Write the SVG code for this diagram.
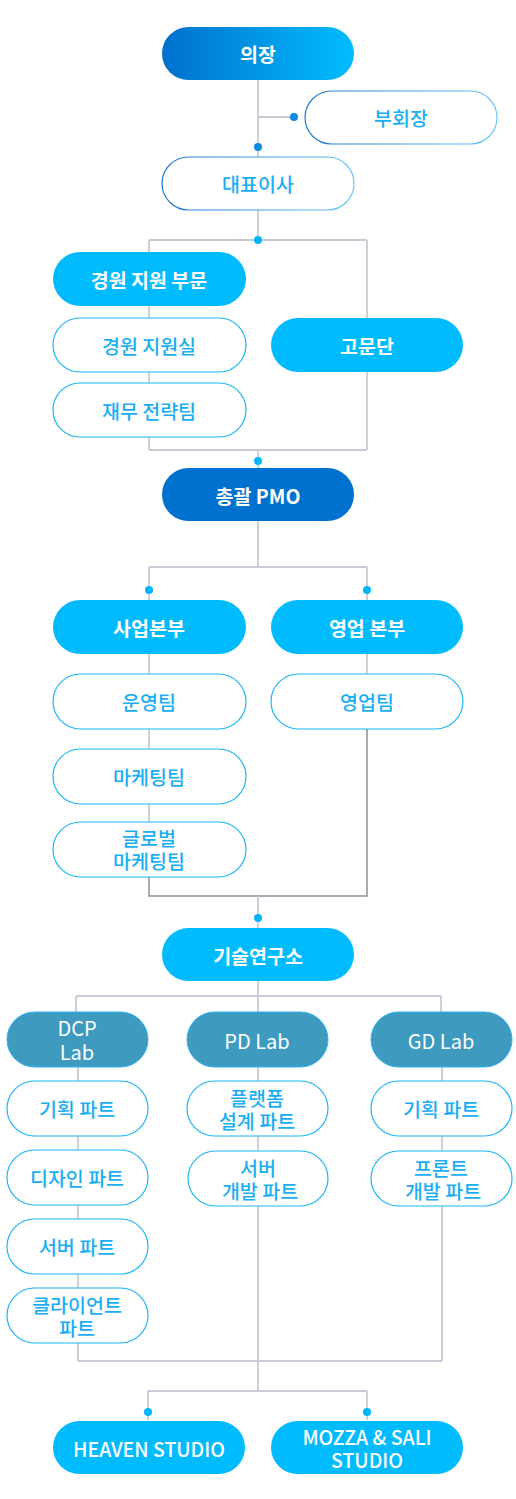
<svg xmlns="http://www.w3.org/2000/svg" width="516" height="1499" viewBox="0 0 516 1499">
<defs>
<linearGradient id="gTop" x1="0" y1="0" x2="1" y2="0"><stop offset="0" stop-color="#0070cc"/><stop offset="1" stop-color="#00bcff"/></linearGradient>
<linearGradient id="gBorder" x1="0" y1="0" x2="1" y2="0"><stop offset="0" stop-color="#1c78d2"/><stop offset="1" stop-color="#6cc8f6"/></linearGradient>
</defs>
<style>
.t{font-family:"Noto Sans CJK KR","Noto Sans",sans-serif;font-size:19.5px;text-anchor:middle;dominant-baseline:central}
.w{fill:#fff;font-weight:700}
.lab{fill:#fff;font-weight:400;font-size:20px}
.b{fill:#1aaef2;font-weight:500}
.fill{fill:#00bcff}
.dark{fill:#0071cf}
.labbox{fill:#3e9bbf;stroke:#2fb3f0;stroke-width:1}
.out{fill:#fff;stroke:#1cb6f5;stroke-width:1.2}
.outg{fill:#fff;stroke:url(#gBorder);stroke-width:1.2}
.ln{fill:none;stroke:#c8cbd6;stroke-width:1.8}
.ln2{fill:none;stroke:#8e8f99;stroke-width:1.5}
.dot{fill:#00b6fb}
.dotd{fill:#0a8ae0}
</style>
<g id="connectors">
<path class="ln" d="M258 80V157M258 117H294"/>
<path class="ln" d="M258 210V240M149 240H367M149 240V450M367 240V450M149 450H367M258 450V468"/>
<path class="ln" d="M258 521V567M149 567H367M149 567V600M367 567V600M149 654V860M367 654V720"/>
<path class="ln2" d="M149 860V896H367V720"/>
<path class="ln" d="M258 896V928"/>
<path class="ln" d="M258 981V1012M76 996H441M76 996V1012M441 996V1012"/>
<path class="ln" d="M78 1067V1361M258 1067V1391M442 1067V1361M78 1361H442M148 1391H367M148 1391V1420M367 1391V1420"/>
<circle class="dotd" cx="294" cy="117" r="4"/>
<circle class="dotd" cx="258" cy="147" r="4"/>
<circle class="dot" cx="258" cy="240" r="4"/>
<circle class="dot" cx="258" cy="461" r="4"/>
<circle class="dot" cx="149" cy="590" r="4"/>
<circle class="dot" cx="367" cy="590" r="4"/>
<circle class="dot" cx="258" cy="918" r="4"/>
<circle class="dot" cx="148" cy="1412" r="4"/>
<circle class="dot" cx="367" cy="1412" r="4"/>
</g>
<g id="n-chair"><rect x="162" y="27" width="192" height="53" rx="26.5" fill="url(#gTop)"/><text class="t w" x="258" y="53">의장</text></g>
<g id="n-vice"><rect class="outg" x="305" y="91" width="192" height="53" rx="26.5"/><text class="t b" x="401" y="117">부회장</text></g>
<g id="n-ceo"><rect class="outg" x="162" y="157" width="192" height="53" rx="26.5"/><text class="t b" x="258" y="183">대표이사</text></g>
<g id="n-mgmt"><rect class="fill" x="53" y="252" width="193" height="54" rx="27"/><text class="t w" x="149" y="279">경원 지원 부문</text></g>
<g id="n-mgmt-office"><rect class="out" x="53" y="318" width="193" height="54" rx="27"/><text class="t b" x="149" y="345">경원 지원실</text></g>
<g id="n-finance"><rect class="out" x="53" y="383" width="193" height="54" rx="27"/><text class="t b" x="149" y="410">재무 전략팀</text></g>
<g id="n-advisory"><rect class="fill" x="271" y="318" width="192" height="54" rx="27"/><text class="t w" x="367" y="345">고문단</text></g>
<g id="n-pmo"><rect class="dark" x="162" y="468" width="192" height="53" rx="26.5"/><text class="t w" x="258" y="495">총괄 PMO</text></g>
<g id="n-biz"><rect class="fill" x="53" y="600" width="193" height="54" rx="27"/><text class="t w" x="149" y="627">사업본부</text></g>
<g id="n-sales"><rect class="fill" x="271" y="600" width="192" height="54" rx="27"/><text class="t w" x="367" y="627">영업 본부</text></g>
<g id="n-ops"><rect class="out" x="53" y="674" width="193" height="55" rx="27.5"/><text class="t b" x="149" y="701">운영팀</text></g>
<g id="n-salesteam"><rect class="out" x="271" y="674" width="192" height="55" rx="27.5"/><text class="t b" x="367" y="701">영업팀</text></g>
<g id="n-mkt"><rect class="out" x="53" y="749" width="193" height="55" rx="27.5"/><text class="t b" x="149" y="776">마케팅팀</text></g>
<g id="n-gmkt"><rect class="out" x="53" y="822" width="193" height="55" rx="27.5"/><text class="t b" x="149" y="837">글로벌</text><text class="t b" x="149" y="860">마케팅팀</text></g>
<g id="n-lab"><rect class="fill" x="162" y="928" width="192" height="53" rx="26.5"/><text class="t w" x="258" y="955">기술연구소</text></g>
<g id="n-dcp"><rect class="labbox" x="7" y="1012" width="141" height="55" rx="27.5"/><text class="t lab" x="77" y="1027">DCP</text><text class="t lab" x="77" y="1051">Lab</text></g>
<g id="n-pd"><rect class="labbox" x="187" y="1012" width="141" height="55" rx="27.5"/><text class="t lab" x="257" y="1040">PD Lab</text></g>
<g id="n-gd"><rect class="labbox" x="371" y="1012" width="141" height="55" rx="27.5"/><text class="t lab" x="441" y="1040">GD Lab</text></g>
<g id="n-dcp-plan"><rect class="out" x="7" y="1081" width="141" height="55" rx="27.5"/><text class="t b" x="77" y="1108">기획 파트</text></g>
<g id="n-dcp-design"><rect class="out" x="7" y="1150" width="141" height="55" rx="27.5"/><text class="t b" x="77" y="1177">디자인 파트</text></g>
<g id="n-dcp-server"><rect class="out" x="7" y="1219" width="141" height="55" rx="27.5"/><text class="t b" x="77" y="1246">서버 파트</text></g>
<g id="n-dcp-client"><rect class="out" x="7" y="1288" width="141" height="55" rx="27.5"/><text class="t b" x="77" y="1304">클라이언트</text><text class="t b" x="77" y="1327">파트</text></g>
<g id="n-pd-platform"><rect class="out" x="187" y="1081" width="141" height="55" rx="27.5"/><text class="t b" x="257" y="1097">플랫폼</text><text class="t b" x="257" y="1120">설계 파트</text></g>
<g id="n-pd-server"><rect class="out" x="188" y="1151" width="140" height="55" rx="27.5"/><text class="t b" x="258" y="1167">서버</text><text class="t b" x="260" y="1190">개발 파트</text></g>
<g id="n-gd-plan"><rect class="out" x="371" y="1081" width="141" height="55" rx="27.5"/><text class="t b" x="441" y="1108">기획 파트</text></g>
<g id="n-gd-front"><rect class="out" x="371" y="1151" width="141" height="55" rx="27.5"/><text class="t b" x="441" y="1167">프론트</text><text class="t b" x="443" y="1190">개발 파트</text></g>
<g id="n-heaven"><rect class="fill" x="53" y="1421" width="192" height="53" rx="26.5"/><text class="t w" x="149" y="1448" style="font-weight:500">HEAVEN STUDIO</text></g>
<g id="n-mozza"><rect class="fill" x="271" y="1421" width="192" height="53" rx="26.5"/><text class="t w" x="367" y="1436" style="font-weight:500">MOZZA &amp; SALI</text><text class="t w" x="367" y="1459" style="font-weight:500">STUDIO</text></g>
</svg>
